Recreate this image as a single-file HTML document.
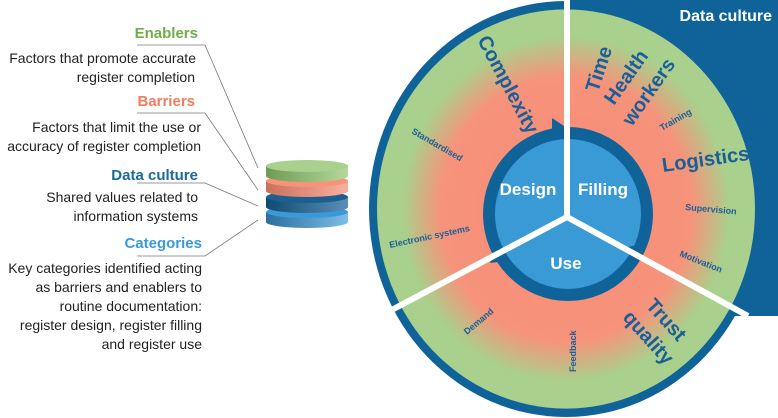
<!DOCTYPE html>
<html><head><meta charset="utf-8"><style>
html,body{margin:0;padding:0;background:#fff;width:778px;height:418px;overflow:hidden}
svg{display:block;font-family:"Liberation Sans",sans-serif}
</style></head><body>
<svg width="778" height="418" viewBox="0 0 778 418">
<defs>
<radialGradient id="rg" cx="0" cy="0" r="190" gradientUnits="userSpaceOnUse">
<stop offset="0.42" stop-color="#f7907a"/>
<stop offset="0.66" stop-color="#f7937a"/>
<stop offset="0.86" stop-color="#a9d08c"/>
<stop offset="1" stop-color="#a9d08c"/>
</radialGradient>
<linearGradient id="dg" x1="0" x2="1"><stop offset="0" stop-color="#6f9a55"/><stop offset="1" stop-color="#b5d89c"/></linearGradient>
<linearGradient id="og" x1="0" x2="1"><stop offset="0" stop-color="#c9705a"/><stop offset="1" stop-color="#fbb09e"/></linearGradient>
<linearGradient id="bg" x1="0" x2="1"><stop offset="0" stop-color="#0f4a72"/><stop offset="1" stop-color="#5a8fb6"/></linearGradient>
<linearGradient id="lg" x1="0" x2="1"><stop offset="0" stop-color="#2a6fa0"/><stop offset="1" stop-color="#7cbde6"/></linearGradient>
</defs>
<!-- left text -->
<g font-size="14" fill="#222" text-anchor="end">
<text x="198" y="38" font-weight="bold" font-size="15" fill="#70ad47">Enablers</text>
<text x="196" y="63">Factors that promote accurate</text>
<text x="195" y="82">register completion</text>
<text x="195" y="106" font-weight="bold" font-size="15" fill="#f47b5e">Barriers</text>
<text x="201" y="132">Factors that limit the use or</text>
<text x="201" y="151">accuracy of register completion</text>
<text x="198" y="180" font-weight="bold" font-size="15" fill="#1b6a9c">Data culture</text>
<text x="198" y="202">Shared values related to</text>
<text x="198" y="221">information systems</text>
<text x="202" y="248" font-weight="bold" font-size="15" fill="#3a9ad9">Categories</text>
<text x="202" y="273">Key categories identified acting</text>
<text x="202" y="292">as barriers and enablers to</text>
<text x="202" y="311">routine documentation:</text>
<text x="202" y="330">register design, register filling</text>
<text x="202" y="349">and register use</text>
</g>
<g stroke="#777" stroke-width="0.8" fill="none">
<polyline points="137,45 205,45 258,168"/>
<polyline points="137,113 205,113 258,190"/>
<polyline points="137,183 205,183 258,206"/>
<polyline points="137,256 205,256 258,220"/>
</g>
<!-- disc stack -->
<g>
<path d="M266,212 v10 a41,6 0 0 0 82,0 v-10 z" fill="url(#lg)"/><ellipse cx="307" cy="212" rx="41" ry="6" fill="#3a9ad9"/>
<path d="M266,197 v10 a41,6 0 0 0 82,0 v-10 z" fill="url(#bg)"/><ellipse cx="307" cy="197" rx="41" ry="6" fill="#1a5f8f"/>
<path d="M266,181 v10 a41,6 0 0 0 82,0 v-10 z" fill="url(#og)"/><ellipse cx="307" cy="181" rx="41" ry="6" fill="#f7937a"/>
<path d="M266,166 v10 a41,6 0 0 0 82,0 v-10 z" fill="url(#dg)"/><ellipse cx="307" cy="166" rx="41" ry="6" fill="#a9d08c"/>
</g>
<!-- data culture corner -->
<rect x="567" y="0" width="211" height="316" fill="#0f6399"/>
<text x="772" y="21" text-anchor="end" font-size="16" font-weight="bold" fill="#fff">Data culture</text>
<!-- main circle (slightly elliptical) -->
<g transform="translate(566,209) scale(1,1.056)">
<circle cx="0" cy="0" r="197" fill="#0f6399"/>
<circle cx="0" cy="0" r="189" fill="url(#rg)"/>
</g>
<ellipse cx="568" cy="214" rx="85" ry="87" fill="#0f6399"/>
<ellipse cx="568" cy="214" rx="73" ry="75" fill="#3a9ad6"/>
<!-- arrowheads -->
<g fill="#0f6399">
<polygon points="552,118 567,128 552,138"/>
<polygon points="628,247 646,243 636,260"/>
<polygon points="490,263 496,246 506,261"/>
</g>
<!-- dividers -->
<g stroke="#fff" stroke-width="6">
<line x1="567" y1="217" x2="567" y2="0"/>
<line x1="567" y1="217" x2="386" y2="313"/>
<line x1="567" y1="217" x2="748" y2="316"/>
</g>
<g fill="#fff" font-weight="bold" font-size="17" text-anchor="middle">
<text x="528" y="195">Design</text>
<text x="603" y="195">Filling</text>
<text x="566" y="269">Use</text>
</g>
<g fill="#1a5f99" font-weight="bold" font-size="20">
<text transform="translate(477,40) rotate(62)">Complexity</text>
<text transform="translate(598,93) rotate(-72)">Time</text>
<text transform="translate(614,106) rotate(-55)">Health</text>
<text transform="translate(632,127) rotate(-55)">workers</text>
<text transform="translate(663,172) rotate(-8)">Logistics</text>
<text transform="translate(645,306) rotate(48)">Trust</text>
<text transform="translate(622,318) rotate(48)">quality</text>
</g>
<g fill="#1a5f99" font-size="9" font-weight="bold">
<text transform="translate(411,133) rotate(30)">Standardised</text>
<text transform="translate(390,248) rotate(-12)">Electronic systems</text>
<text transform="translate(662,131) rotate(-30)">Training</text>
<text transform="translate(685,210) rotate(5)">Supervision</text>
<text transform="translate(679,256) rotate(22)">Motivation</text>
<text transform="translate(467,335) rotate(-40)">Demand</text>
<text transform="translate(576,372) rotate(-90)">Feedback</text>
</g>
</svg>
</body></html>
